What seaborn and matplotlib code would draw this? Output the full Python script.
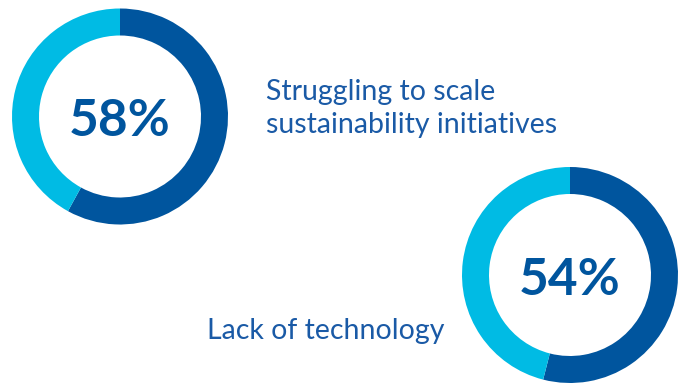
import matplotlib
matplotlib.use("Agg")
import matplotlib.pyplot as plt
import seaborn as sns

sns.set_theme(style="white")
plt.rcParams["font.family"] = ["Lato", "DejaVu Sans"]

# Survey results shown as donuts
caption_lines = [["Struggling to scale", "sustainability initiatives"], ["Lack of technology"]]
shares = [58, 54]
pct_labels = ["58%", "54%"]

dark_blue = "#00559E"
light_blue = "#00BBE4"
text_blue = "#1A5AA6"

W, H = 688, 383
fig = plt.figure(figsize=(W / 100, H / 100), dpi=100)
ax = fig.add_axes([0, 0, 1, 1])

# donut centres / radius in pixel space (y measured from the top)
centres = [(120, 116.5), (570, 275)]
outer_r = 108
ring_w = 27

for (cx, cy), share, pct in zip(centres, shares, pct_labels):
    ax.pie(
        [share, 100 - share],
        colors=[dark_blue, light_blue],
        startangle=90,
        counterclock=False,
        radius=outer_r,
        center=(cx, H - cy),
        wedgeprops=dict(width=ring_w, linewidth=0),
        frame=True,
    )
    ax.text(cx, H - cy - 20, pct, ha="center", va="baseline",
            fontsize=37, fontweight="bold", color=dark_blue)

# captions, one baseline per line
caption_pos = [[(266, 100), (266, 133)], [(207, 339)]]
for lines, positions in zip(caption_lines, caption_pos):
    for line, (x, y) in zip(lines, positions):
        ax.text(x, H - y, line, ha="left", va="baseline",
                fontsize=20.5, color=text_blue)

ax.set_xlim(0, W)
ax.set_ylim(0, H)
ax.set_aspect("equal")
ax.axis("off")

fig.savefig("out.png", dpi=100, facecolor="white")
